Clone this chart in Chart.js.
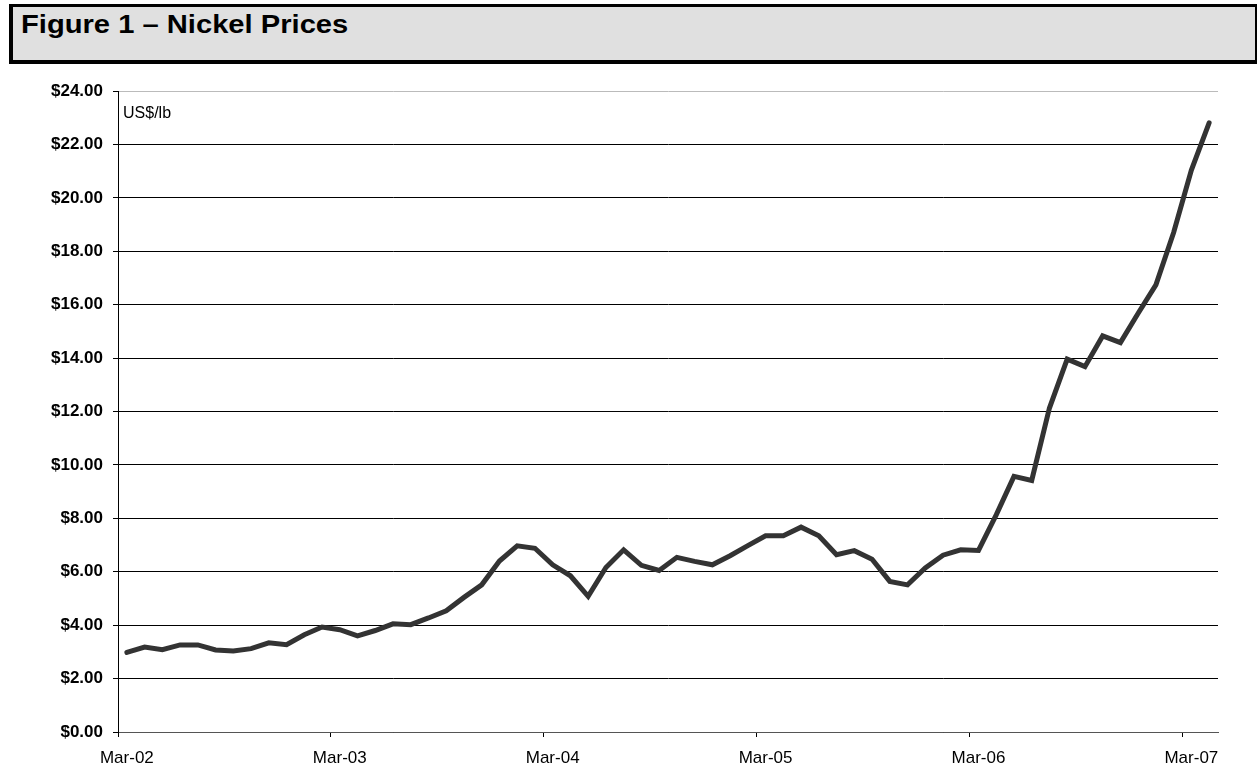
<!DOCTYPE html>
<html>
<head>
<meta charset="utf-8">
<title>Figure 1 – Nickel Prices</title>
<script src="https://cdn.jsdelivr.net/npm/chart.js@4.4.1/dist/chart.umd.min.js"></script>
<style>
  html, body { margin: 0; padding: 0; background: #ffffff; }
  body { width: 1257px; height: 767px; position: relative; overflow: hidden; }
  #titleBox {
    position: absolute; left: 9px; top: 4px; width: 1248px; height: 60px;
    box-sizing: border-box; background: #e0e0e0;
    border-top: 3px solid #000; border-left: 4px solid #000;
    border-bottom: 4px solid #000; border-right: 2px solid #000;
    z-index: 2;
  }
  #titleText {
    position: absolute; left: 21px; top: 12px; z-index: 3;
    font-family: "Liberation Sans", Arial, sans-serif; font-weight: bold;
    font-size: 25px; line-height: 25px; color: #000; white-space: nowrap;
    transform: scaleX(1.166); transform-origin: 0 0;
  }
  #wrap { position: absolute; left: 0; top: 0; width: 1257px; height: 767px; z-index: 1; }
  #chart { display: block; }
</style>
</head>
<body>
<div id="titleBox"></div>
<div id="titleText">Figure 1 – Nickel Prices</div>
<div id="wrap"><canvas id="chart" width="1257" height="767"></canvas></div>
<script>
// Monthly categories, Mar-02 through Apr-07
const months = [
  'Mar-02','Apr-02','May-02','Jun-02','Jul-02','Aug-02','Sep-02','Oct-02','Nov-02','Dec-02','Jan-03','Feb-03',
  'Mar-03','Apr-03','May-03','Jun-03','Jul-03','Aug-03','Sep-03','Oct-03','Nov-03','Dec-03','Jan-04','Feb-04',
  'Mar-04','Apr-04','May-04','Jun-04','Jul-04','Aug-04','Sep-04','Oct-04','Nov-04','Dec-04','Jan-05','Feb-05',
  'Mar-05','Apr-05','May-05','Jun-05','Jul-05','Aug-05','Sep-05','Oct-05','Nov-05','Dec-05','Jan-06','Feb-06',
  'Mar-06','Apr-06','May-06','Jun-06','Jul-06','Aug-06','Sep-06','Oct-06','Nov-06','Dec-06','Jan-07','Feb-07',
  'Mar-07','Apr-07'
];

// Nickel price, US$ per lb
const nickelPrice = [
  2.98, 3.18, 3.08, 3.26, 3.26, 3.07, 3.03, 3.12, 3.34, 3.27,
  3.64, 3.93, 3.83, 3.60, 3.80, 4.05, 4.02, 4.27, 4.54, 5.04,
  5.51, 6.40, 6.97, 6.88, 6.26, 5.85, 5.08, 6.16, 6.82, 6.24,
  6.05, 6.54, 6.39, 6.26, 6.60, 6.98, 7.35, 7.35, 7.67, 7.35,
  6.64, 6.79, 6.47, 5.64, 5.51, 6.14, 6.62, 6.82, 6.80, 8.13,
  9.57, 9.42, 12.13, 13.96, 13.68, 14.83, 14.58, 15.68, 16.74, 18.70,
  21.04, 22.81
];

// Y-axis range and tick spacing
const yMin = 0;
const yMax = 24;
const yStep = 2;
const unitLabel = 'US$/lb';
const labelEvery = 12;

const FONT = '"Liberation Sans", Arial, sans-serif';

const unitPlugin = {
  id: 'unitLabel',
  afterDraw(chart) {
    const { ctx, chartArea } = chart;
    ctx.save();
    ctx.font = '16px ' + FONT;
    ctx.fillStyle = '#000';
    ctx.textAlign = 'left';
    ctx.textBaseline = 'alphabetic';
    ctx.fillText(unitLabel, chartArea.left + 5, chartArea.top + 27);
    ctx.restore();
  }
};

new Chart(document.getElementById('chart'), {
  type: 'line',
  data: {
    labels: months,
    datasets: [{
      data: nickelPrice,
      borderColor: '#333333',
      borderWidth: 5,
      pointRadius: 0,
      tension: 0,
      borderCapStyle: 'round',
      borderJoinStyle: 'miter',
      fill: false
    }]
  },
  options: {
    responsive: false,
    animation: false,
    devicePixelRatio: 1,
    layout: { padding: { left: 0, right: 39, top: 91, bottom: 0 } },
    plugins: { legend: { display: false }, tooltip: { enabled: false }, title: { display: false } },
    scales: {
      x: {
        type: 'category',
        offset: true,
        grid: {
          offset: true,
          drawOnChartArea: false,
          drawTicks: true,
          tickLength: 5,
          color: (c) => (c.index % labelEvery === 0 && c.index < months.length) ? '#000' : 'rgba(0,0,0,0)'
        },
        border: { display: true, color: '#555', width: 1 },
        ticks: {
          autoSkip: false,
          maxRotation: 0,
          minRotation: 0,
          padding: 11,
          color: '#000',
          font: { family: FONT, size: 17 },
          callback: (v, i) => (i % labelEvery === 0 ? months[i] : '')
        },
        afterFit: (s) => { s.height = 35; }
      },
      y: {
        min: yMin,
        max: yMax,
        grid: {
          color: (c) => (c.tick && c.tick.value === yMax) ? '#bbbbbb' : '#000',
          tickColor: '#000',
          drawTicks: true,
          tickLength: 5,
          lineWidth: 1
        },
        border: { display: true, color: '#000', width: 1 },
        ticks: {
          stepSize: yStep,
          padding: 10,
          color: '#000',
          font: { family: FONT, size: 17, weight: 'bold' },
          callback: (v) => '$' + Number(v).toFixed(2)
        },
        afterFit: (s) => { s.width = 118; }
      }
    }
  },
  plugins: [unitPlugin]
});
</script>
</body>
</html>
